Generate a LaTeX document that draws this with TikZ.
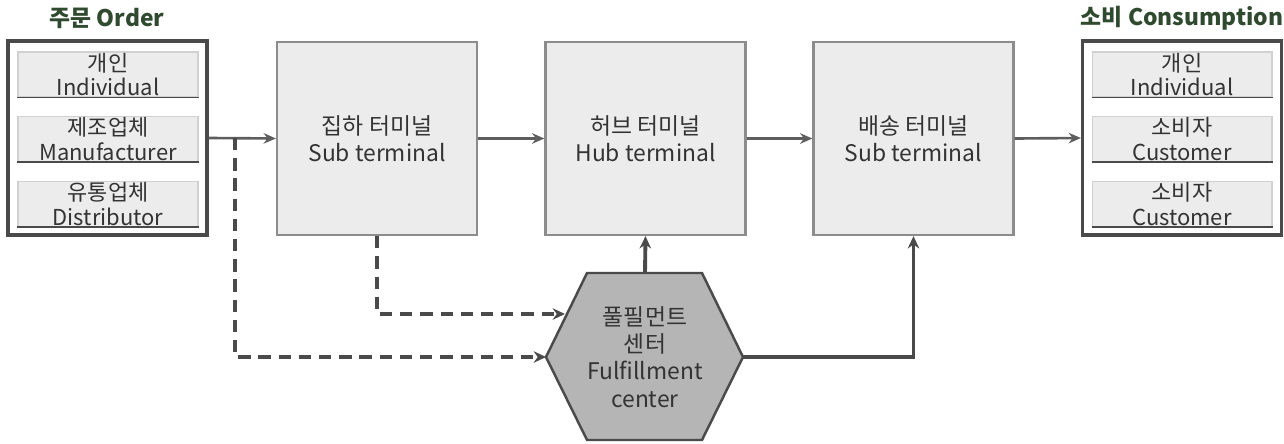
\documentclass[tikz,border=0pt]{standalone}
\usepackage{fontspec}
\setmainfont{Noto Sans CJK KR}
\usetikzlibrary{arrows.meta}
\definecolor{framegray}{HTML}{4A4A4A}
\definecolor{linegray}{HTML}{5E5E5E}
\definecolor{boxfill}{HTML}{ECECEC}
\definecolor{boxline}{HTML}{8C8C8C}
\definecolor{hexfill}{HTML}{B5B5B5}
\definecolor{titlegreen}{HTML}{2F4A2F}
\definecolor{textgray}{HTML}{333333}
\tikzset{
  outerbox/.style={draw=framegray, line width=1.8pt, minimum width=3.98cm, minimum height=3.88cm},
  itembox/.style={fill=boxfill, draw=black!18, line width=0.6pt, minimum width=3.6cm, minimum height=0.9cm,
    align=center, text=textgray, font=\fontsize{12.5}{14}\selectfont, inner sep=0pt},
  termbox/.style={fill=boxfill, draw=boxline, line width=1.3pt, minimum width=4cm, minimum height=3.86cm,
    align=center, text=textgray, font=\fontsize{13}{15.5}\selectfont},
  headline/.style={text=titlegreen, font=\bfseries\fontsize{13}{15}\selectfont},
  flow/.style={draw=linegray, line width=1.5pt, -{Stealth[length=7pt,width=6pt]}},
  feed/.style={draw=framegray, line width=2.2pt, -{Stealth[length=7pt,width=6.5pt]}},
  dashflow/.style={feed, dash pattern=on 7pt off 4.5pt}
}
\begin{document}
\begin{tikzpicture}[x=0.02cm, y=-0.02cm]
\useasboundingbox (0,0) rectangle (1284,443);
% order side
\node[headline] (ordertitle) at (107,18) {주문 Order};
\node[outerbox] (order) at (107.5,138) {};
\node[itembox] (o1) at (108,74.5) {개인\\Individual};
\node[itembox] (o2) at (108,139) {제조업체\\Manufacturer};
\node[itembox] (o3) at (108,204) {유통업체\\Distributor};
% consumption side
\node[headline] (constitle) at (1182,18) {소비 Consumption};
\node[outerbox] (cons) at (1182,138) {};
\node[itembox] (c1) at (1182,74.5) {개인\\Individual};
\node[itembox] (c2) at (1182,139) {소비자\\Customer};
\node[itembox] (c3) at (1182,204) {소비자\\Customer};
\foreach \n in {o1,o2,o3,c1,c2,c3}
  \draw[framegray, line width=1.1pt] (\n.south west) -- (\n.south east);
% terminals
\node[termbox] (sub) at (377,138.5) {집하 터미널\\Sub terminal};
\node[termbox] (hub) at (645.5,138.5) {허브 터미널\\Hub terminal};
\node[termbox] (del) at (913.5,138.5) {배송 터미널\\Sub terminal};
% fulfillment center
\draw[fill=hexfill, draw=framegray, line width=1.4pt]
  (546,357) -- (587,273) -- (702,273) -- (743,357) -- (702,440) -- (587,440) -- cycle;
\node[align=center, text=textgray, font=\fontsize{13}{15.5}\selectfont] (fc) at (645,357)
  {풀필먼트\\센터\\Fulfillment\\center};
\coordinate (fcW) at (546,357);
\coordinate (fcA) at (565,314);
\coordinate (fcN) at (645,273);
\coordinate (fcE) at (743,357);
\coordinate (split) at (235,138);
% connectors
\draw[flow] (order.east) -- (sub.west);
\draw[flow] (sub.east) -- (hub.west);
\draw[flow] (hub.east) -- (del.west);
\draw[flow] (del.east) -- (cons.west);
\draw[dashflow] (split) |- (fcW);
\draw[dashflow] (sub.south) |- (fcA);
\draw[feed] (fcN) -- (hub.south);
\draw[feed] (fcE) -| (del.south);
\end{tikzpicture}
\end{document}
